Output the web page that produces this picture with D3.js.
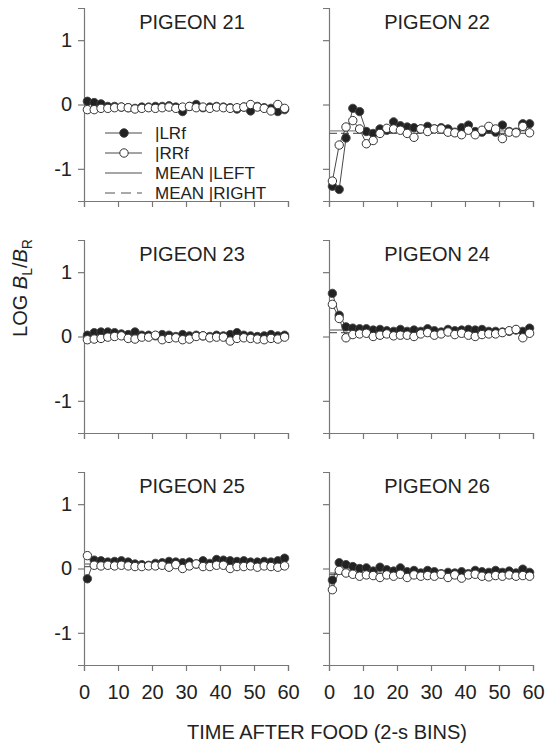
<!DOCTYPE html>
<html><head><meta charset="utf-8">
<script src="https://cdn.jsdelivr.net/npm/d3@7"></script>
<style>body{margin:0;background:#fff}svg{display:block;font-family:"Liberation Sans",Arial,sans-serif}</style>
</head><body>
<svg id="c" width="546" height="747"></svg>
<script>
const pigeons = ["PIGEON 21","PIGEON 22","PIGEON 23","PIGEON 24","PIGEON 25","PIGEON 26"];
const bins = [1,3,5,7,9,11,13,15,17,19,21,23,25,27,29,31,33,35,37,39,41,43,45,47,49,51,53,55,57,59];
const xTicks = [0,10,20,30,40,50,60];
const yTicks = [-1,0,1];
const seriesL = [
 [0.05,0.03,0.01,-0.03,-0.03,-0.04,-0.05,-0.06,-0.04,-0.04,-0.03,-0.03,-0.02,-0.04,-0.11,-0.03,0.00,-0.05,-0.04,-0.03,-0.04,-0.05,-0.07,-0.04,-0.10,-0.03,-0.05,-0.06,-0.11,-0.08],
 [-1.27,-1.32,-0.52,-0.06,-0.11,-0.42,-0.45,-0.38,-0.40,-0.27,-0.33,-0.35,-0.36,-0.38,-0.34,-0.38,-0.36,-0.38,-0.43,-0.36,-0.32,-0.42,-0.43,-0.38,-0.43,-0.32,-0.42,-0.43,-0.30,-0.30],
 [0.02,0.06,0.07,0.07,0.06,0.04,0.03,0.07,0.02,0.02,0.01,0.03,0.02,0.00,0.03,0.01,0.02,0.01,0.00,0.02,0.01,0.03,0.06,0.02,0.01,0.00,0.01,0.03,0.01,0.02],
 [0.67,0.33,0.15,0.13,0.12,0.12,0.10,0.11,0.09,0.08,0.11,0.08,0.10,0.08,0.12,0.09,0.07,0.11,0.09,0.10,0.11,0.10,0.11,0.08,0.08,0.07,0.08,0.10,0.08,0.13],
 [-0.16,0.13,0.12,0.10,0.11,0.12,0.10,0.07,0.06,0.05,0.08,0.09,0.11,0.10,0.09,0.10,0.07,0.12,0.08,0.14,0.13,0.12,0.11,0.12,0.10,0.10,0.11,0.10,0.12,0.16],
 [-0.18,0.09,0.06,0.03,0.00,0.01,-0.04,0.02,-0.02,-0.04,0.01,-0.05,-0.03,-0.07,-0.03,-0.05,-0.08,-0.06,-0.07,-0.05,-0.08,-0.03,-0.05,-0.06,-0.03,-0.06,-0.04,-0.07,-0.01,-0.06]
];
const seriesR = [
 [-0.08,-0.08,-0.06,-0.06,-0.05,-0.04,-0.05,-0.07,-0.06,-0.05,-0.06,-0.05,-0.04,-0.06,-0.04,-0.03,-0.05,-0.04,-0.06,-0.04,-0.05,-0.06,-0.05,-0.04,0.00,-0.04,-0.06,-0.10,0.00,-0.06],
 [-1.19,-0.63,-0.35,-0.25,-0.38,-0.61,-0.56,-0.45,-0.37,-0.38,-0.40,-0.45,-0.51,-0.38,-0.42,-0.38,-0.38,-0.43,-0.44,-0.47,-0.40,-0.47,-0.40,-0.34,-0.38,-0.53,-0.43,-0.44,-0.34,-0.44],
 [-0.05,-0.04,-0.03,-0.01,0.00,0.01,-0.03,-0.04,-0.01,-0.01,0.02,-0.05,-0.03,-0.02,-0.05,-0.04,0.00,0.01,-0.02,-0.01,-0.01,-0.07,-0.03,-0.02,-0.03,-0.04,-0.05,-0.03,-0.04,-0.01],
 [0.50,0.28,-0.02,0.03,0.04,0.05,0.00,0.02,0.04,0.01,0.02,0.02,0.00,0.04,0.06,0.02,0.04,0.07,0.03,0.05,0.02,0.00,0.03,0.04,0.04,0.06,0.09,0.11,-0.02,0.05],
 [0.20,0.05,0.04,0.05,0.04,0.05,0.04,0.03,0.03,0.04,0.04,0.05,0.02,0.06,0.00,0.04,0.07,0.03,0.03,0.05,0.05,0.00,0.03,0.03,0.04,0.02,0.04,0.03,0.02,0.04],
 [-0.33,-0.03,-0.07,-0.09,-0.12,-0.10,-0.11,-0.14,-0.10,-0.12,-0.09,-0.14,-0.10,-0.12,-0.11,-0.12,-0.09,-0.14,-0.10,-0.15,-0.10,-0.09,-0.12,-0.13,-0.11,-0.12,-0.10,-0.12,-0.11,-0.12]
];
const meanL = [-0.05,-0.41,0.01,0.10,0.07,-0.07];
const meanR = [-0.05,-0.45,0.00,0.06,0.03,-0.09];
const legendLabels = ["|LRf","|RRf","MEAN |LEFT","MEAN |RIGHT"];

const svg = d3.select("#c");
const colX = [84, 329], rowY = [8, 240, 472], pw = 204, ph = 193;
const axisCol = "#777", txtCol = "#222", markCol = "#333";
const R = 4.2;
const fmt = d => (d < 0 ? "-" : "") + Math.abs(d);

pigeons.forEach((name, i) => {
  const col = i % 2, row = Math.floor(i / 2);
  const x = d3.scaleLinear().domain([0, 60]).range([colX[col], colX[col] + pw]);
  const y = d3.scaleLinear().domain([-1.5, 1.5]).range([rowY[row] + ph, rowY[row]]);
  const g = svg.append("g");

  const ya = g.append("g").attr("transform", `translate(${colX[col]},0)`)
    .call(d3.axisLeft(y).tickValues(yTicks).tickSize(6).tickPadding(6)
      .tickFormat(col === 0 ? fmt : () => ""));
  const xa = g.append("g").attr("transform", `translate(0,${rowY[row] + ph})`)
    .call(d3.axisBottom(x).tickValues(xTicks).tickSize(6).tickPadding(14)
      .tickFormat(row === 2 ? fmt : () => ""));
  [ya, xa].forEach(a => {
    a.select(".domain").attr("stroke", axisCol).attr("stroke-width", 1.2);
    a.selectAll(".tick line").attr("stroke", axisCol).attr("stroke-width", 1.2);
    a.selectAll("text").attr("fill", txtCol).style("font-size", "20px").style("font-family", "Liberation Sans, Arial, sans-serif");
  });
  xa.selectAll("text").attr("dy", "0.71em");

  g.append("text").attr("x", colX[col] + pw / 2 + 6).attr("y", rowY[row] + 21)
    .attr("text-anchor", "middle").attr("fill", txtCol).style("font-size", "20px").text(name);

  g.append("line").attr("x1", x(0)).attr("x2", x(60)).attr("y1", y(meanL[i])).attr("y2", y(meanL[i]))
    .attr("stroke", "#888").attr("stroke-width", 1.4);
  g.append("line").attr("x1", x(0)).attr("x2", x(60)).attr("y1", y(meanR[i])).attr("y2", y(meanR[i]))
    .attr("stroke", "#666").attr("stroke-width", 1.2).attr("stroke-dasharray", "8,4");

  const line = d3.line().x((d, k) => x(bins[k])).y(d => y(d));
  g.append("path").attr("d", line(seriesL[i])).attr("fill", "none").attr("stroke", markCol).attr("stroke-width", 0.9);
  g.append("path").attr("d", line(seriesR[i])).attr("fill", "none").attr("stroke", markCol).attr("stroke-width", 0.9);

  g.selectAll(".pl").data(seriesL[i]).join("circle")
    .attr("cx", (d, k) => x(bins[k])).attr("cy", d => y(d)).attr("r", R)
    .attr("fill", "#222").attr("stroke", "#444").attr("stroke-width", 0.9);
  g.selectAll(".pr").data(seriesR[i]).join("circle")
    .attr("cx", (d, k) => x(bins[k])).attr("cy", d => y(d)).attr("r", R)
    .attr("fill", "#fff").attr("stroke", markCol).attr("stroke-width", 1);
});

const lg = svg.append("g");
const ly = [133, 153, 173, 193];
legendLabels.forEach((t, k) => {
  const yy = ly[k];
  if (k < 2) {
    lg.append("line").attr("x1", 105).attr("x2", 142).attr("y1", yy).attr("y2", yy).attr("stroke", markCol).attr("stroke-width", 0.9);
    lg.append("circle").attr("cx", 124).attr("cy", yy).attr("r", R)
      .attr("fill", k === 0 ? "#222" : "#fff").attr("stroke", markCol).attr("stroke-width", 1);
  } else if (k === 2) {
    lg.append("line").attr("x1", 105).attr("x2", 142).attr("y1", yy).attr("y2", yy).attr("stroke", "#888").attr("stroke-width", 1.4);
  } else {
    lg.append("line").attr("x1", 105).attr("x2", 142).attr("y1", yy).attr("y2", yy).attr("stroke", "#555").attr("stroke-width", 1.2).attr("stroke-dasharray", "10,6");
  }
  lg.append("text").attr("x", 155).attr("y", yy + 6).attr("fill", txtCol).style("font-size", "17px").text(t);
});

svg.append("text").attr("x", 327).attr("y", 739).attr("text-anchor", "middle").attr("fill", txtCol)
  .style("font-size", "20px").text("TIME AFTER FOOD (2-s BINS)");
const yl = svg.append("text").attr("transform", "translate(27,288) rotate(-90)").attr("text-anchor", "middle")
  .attr("fill", txtCol).style("font-size", "20px");
yl.append("tspan").text("LOG ");
yl.append("tspan").attr("font-style", "italic").text("B");
yl.append("tspan").attr("dy", 5).style("font-size", "14px").text("L");
yl.append("tspan").attr("dy", -5).text("/");
yl.append("tspan").attr("font-style", "italic").text("B");
yl.append("tspan").attr("dy", 5).style("font-size", "14px").text("R");
</script>
</body></html>
